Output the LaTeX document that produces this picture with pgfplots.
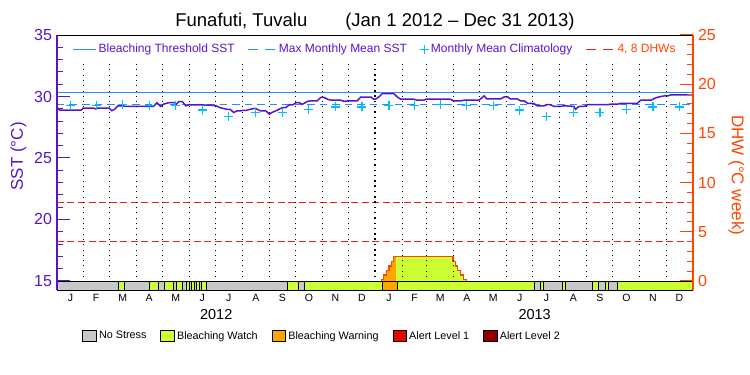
\documentclass[border=0pt]{standalone}
\usepackage{fontspec}
\setmainfont{Liberation Sans}
\usepackage{pgfplots}
\pgfplotsset{compat=1.18}
\definecolor{sstpurple}{RGB}{90,20,200}
\definecolor{dhworange}{RGB}{255,69,0}
\definecolor{thrblue}{RGB}{30,144,255}
\definecolor{climcyan}{RGB}{0,191,255}
\definecolor{dhwred}{RGB}{240,30,30}
\definecolor{nostress}{RGB}{200,200,200}
\definecolor{watch}{RGB}{204,255,51}
\definecolor{warning}{RGB}{255,165,0}
\definecolor{alertone}{RGB}{240,0,0}
\definecolor{alerttwo}{RGB}{140,0,0}
\pgfplotsset{
  legline/.style={legend image code/.code={\draw[##1] (0pt,0pt) -- (#1,0pt);}},
  legdline/.style={legend image code/.code={\draw[##1, dash pattern=on 10pt off 7pt] (0pt,0pt) -- (#1,0pt);}},
  legbox/.style={legend image code/.code={\draw[##1] (0pt,-5.3pt) rectangle (13.7pt,5.3pt);}},
}
\newcommand{\seg}[3]{\addplot[fill=#3, draw=black, line width=0.9pt, forget plot] coordinates {(#1,14.267) (#2,14.267) (#2,15) (#1,15)} -- cycle;}
\begin{document}
\begin{tikzpicture}
\path[use as bounding box] (-57pt,-85pt) rectangle (693pt,290pt);
% ---------------- SST axis ----------------
\begin{axis}[
  scale only axis, width=636pt, height=255pt,
  xmin=0, xmax=731, ymin=14.267, ymax=35,
  axis on top, separate axis lines,
  x axis line style={black, line width=1pt},
  y axis line style={sstpurple, line width=1.2pt},
  xtick={15.5,45,75.5,106,136.5,167,197.5,228.5,259,289.5,320,350.5,381.5,411,440.5,471,501.5,532,562.5,593.5,624,654.5,685,715.5},
  xticklabels={J,F,M,A,M,J,J,A,S,O,N,D,J,F,M,A,M,J,J,A,S,O,N,D},
  xtick pos=bottom, xtick style={draw=none},
  xticklabel style={font=\fontsize{10.5}{10.5}\selectfont, yshift=-1pt},
  extra x ticks={183,549}, extra x tick labels={2012,2013},
  extra x tick style={major tick length=0pt, xtick style={draw=none}, xticklabel style={font=\fontsize{14.5}{14.5}\selectfont, yshift=-15pt}},
  ytick={15,20,25,30,35}, minor ytick={16,17,18,19,21,22,23,24,26,27,28,29,31,32,33,34},
  ytick pos=left, tick align=inside,
  major tick length=13pt, minor tick length=6pt,
  ytick style={sstpurple, line width=1pt},
  yticklabel style={text=sstpurple, font=\fontsize{16}{16}\selectfont, xshift=-1.5pt},
  /pgf/number format/assume math mode=true,
  ylabel={SST (°C)},
  every axis y label/.style={at={(axis description cs:-0.0605,0.524)}, rotate=90, anchor=center, text=sstpurple, font=\fontsize{17}{17}\selectfont},
  title={Funafuti, Tuvalu\hspace{38pt}(Jan 1 2012 – Dec 31 2013)},
  title style={at={(axis description cs:0.5,1)}, anchor=base, yshift=3pt, font=\fontsize{18.5}{18.5}\selectfont},
  legend columns=4,
  legend style={draw=none, fill=none, at={(axis description cs:0.5,1)}, anchor=north, yshift=-5pt,
    font=\fontsize{12}{12}\selectfont, text=sstpurple,
    /tikz/every even column/.append style={column sep=11pt}},
]
% stress bar
\seg{0}{70.6}{nostress}
\seg{70.6}{77.1}{watch}
\seg{77.1}{106.3}{nostress}
\seg{106.3}{116.6}{watch}
\seg{116.6}{123.5}{nostress}
\seg{123.5}{133.9}{watch}
\seg{133.9}{137.7}{nostress}
\seg{137.7}{144.6}{watch}
\seg{144.6}{148.4}{nostress}
\seg{148.4}{152.3}{watch}
\seg{152.3}{155}{nostress}
\seg{155}{158}{watch}
\seg{158}{160.7}{nostress}
\seg{160.7}{163.8}{watch}
\seg{163.8}{166.5}{nostress}
\seg{166.5}{172.2}{watch}
\seg{172.2}{264.3}{nostress}
\seg{264.3}{277.7}{watch}
\seg{277.7}{284.6}{nostress}
\seg{284.6}{373.6}{watch}
\seg{373.6}{390.9}{warning}
\seg{390.9}{549.3}{watch}
\seg{549.3}{555.8}{nostress}
\seg{555.8}{558.9}{watch}
\seg{558.9}{580.8}{nostress}
\seg{580.8}{584.6}{watch}
\seg{584.6}{615.3}{nostress}
\seg{615.3}{622.2}{watch}
\seg{622.2}{629.8}{nostress}
\seg{629.8}{633.3}{watch}
\seg{633.3}{644.1}{nostress}
\seg{644.1}{731}{watch}
% threshold and MMM
\addplot[thrblue, line width=1.2pt, legline=23pt] coordinates {(0,30.32) (731,30.32)};
\addlegendentry{Bleaching Threshold SST}
\addplot[thrblue, line width=1.2pt, dash pattern=on 7.5pt off 5pt, legdline=28pt] coordinates {(0,29.32) (731,29.32)};
\addlegendentry{Max Monthly Mean SST}
% climatology
\addplot[only marks, mark=+, mark size=4.5pt, climcyan, line width=1.2pt] coordinates {
(15.5,29.3) (45,29.3) (75.5,29.35) (106,29.3) (136.5,29.25) (167,28.9) (197.5,28.35) (228.5,28.72) (259,28.72) (289.5,28.93) (320,29.15) (350.5,29.15)
(381.5,29.3) (411,29.3) (440.5,29.35) (471,29.3) (501.5,29.25) (532,28.9) (562.5,28.35) (593.5,28.72) (624,28.72) (654.5,28.93) (685,29.15) (715.5,29.15)};
\addlegendentry{Monthly Mean Climatology}
% SST
\addplot[sstpurple, line width=1.5pt, forget plot] coordinates {
(0,29.1) (3,28.9) (28,28.9) (30,29.05) (42,29.05) (44,29.0) (46,29.05) (60,29.05) (63,28.85) (66,28.95) (70,29.24) (76,29.24) (78,29.2) (111,29.2) (115,29.5) (119,29.2) (123,29.4) (129,29.5) (135,29.5) (137,29.36) (140,29.59) (144,29.59) (148,29.24) (152,29.33) (176,29.3) (183,29.24) (187,29.1) (195,28.96) (199,28.96) (203,28.7) (207,28.83) (211,28.83) (214,28.88) (218,28.88) (222,28.96) (228,29.04) (234,28.83) (240,28.83) (244,28.56) (247,28.7) (253,28.88) (259,29.1) (263,29.1) (267,29.32) (271,29.32) (275,29.5) (278,29.5) (282,29.37) (288,29.6) (291,29.64) (299,29.64) (303,29.92) (307,29.92) (311,29.78) (315,29.7) (326,29.7) (330,29.6) (334,29.64) (345,29.64) (349,29.95) (361,29.95) (364,29.78) (366,29.78) (370,29.97) (374,30.24) (387,30.24) (391,29.97) (395,29.78) (410,29.78) (414,29.7) (422,29.7) (424,29.78) (452,29.78) (456,29.64) (464,29.64) (468,29.7) (485,29.7) (491,30.05) (494,29.8) (510,29.8) (514,29.97) (518,29.97) (521,29.8) (529,29.8) (533,29.64) (537,29.64) (541,29.45) (548,29.43) (552,29.24) (560,29.24) (563,29.33) (567,29.33) (571,29.2) (579,29.2) (583,29.24) (594,29.2) (596,28.96) (600,29.2) (606,29.2) (610,29.33) (632,29.33) (636,29.37) (644,29.37) (648,29.45) (667,29.45) (671,29.7) (683,29.7) (687,29.86) (692,29.97) (698,30.05) (702,30.05) (706,30.14) (731,30.14)};
\addlegendimage{dhwred, line width=1.2pt, legdline=29pt}
\addlegendentry{\textcolor{dhworange}{4, 8 DHWs}}
\end{axis}
% ---------------- DHW axis ----------------
\begin{axis}[
  scale only axis, width=636pt, height=255pt,
  xmin=0, xmax=731, ymin=-0.918, ymax=25,
  axis x line=none, axis y line*=right,
  axis on top, clip=false, unbounded coords=jump,
  y axis line style={dhworange, line width=1.2pt},
  ytick={0,5,10,15,20,25}, minor ytick={1,2,3,4,6,7,8,9,11,12,13,14,16,17,18,19,21,22,23,24},
  tick align=inside, major tick length=13pt, minor tick length=6pt,
  ytick style={dhworange, line width=1pt},
  yticklabel style={text=dhworange, font=\fontsize{16}{16}\selectfont, xshift=1.5pt},
  /pgf/number format/assume math mode=true,
  ylabel={DHW (°C week)},
  every axis y label/.style={at={(axis description cs:1.068,0.45)}, rotate=-90, anchor=center, text=dhworange, font=\fontsize{17}{17}\selectfont},
  legend columns=5,
  legend style={draw=none, fill=none, at={(axis description cs:0.035,-0.18)}, anchor=west,
    font=\fontsize{10.8}{10.8}\selectfont,
    /tikz/every even column/.append style={column sep=12pt}},
]
% DHW fills
\addplot[fill=warning, draw=none, forget plot] coordinates {(373.2,0) (373.2,0.17) (375.5,0.17) (375.5,0.6) (378.6,0.6) (378.6,1.05) (381.7,1.05) (381.7,1.53) (384.3,1.53) (384.3,1.97) (387,1.97) (387,2.52) (390.1,2.52) (390.1,0)} -- cycle;
\addplot[fill=watch, draw=none, forget plot] coordinates {(390.1,0) (390.1,2.52) (455.3,2.52) (455.3,1.97) (458,1.97) (458,1.53) (460.7,1.53) (460.7,1.05) (463.8,1.05) (463.8,0.6) (467.6,0.6) (467.6,0.17) (470.6,0.17) (470.6,0)} -- cycle;
\addplot[dhworange, line width=1.3pt, forget plot] coordinates {(373.2,0) (373.2,0.17) (375.5,0.17) (375.5,0.6) (378.6,0.6) (378.6,1.05) (381.7,1.05) (381.7,1.53) (384.3,1.53) (384.3,1.97) (387,1.97) (387,2.52) (455.3,2.52) (455.3,1.97) (458,1.97) (458,1.53) (460.7,1.53) (460.7,1.05) (463.8,1.05) (463.8,0.6) (467.6,0.6) (467.6,0.17) (470.6,0.17) (470.6,0)};
% DHW 4 and 8 lines
\addplot[dhwred, line width=1.2pt, dash pattern=on 7pt off 3.5pt, forget plot] coordinates {(0,4) (731,4)};
\addplot[dhwred, line width=1.2pt, dash pattern=on 7pt off 3.5pt, forget plot] coordinates {(0,8) (731,8)};
% month separators
\addplot[black, line width=1pt, dash pattern=on 1pt off 4.3pt, forget plot] coordinates {
(31,0.4) (31,22.24) (31,nan)
(60,0.4) (60,22.24) (60,nan)
(91,0.4) (91,22.24) (91,nan)
(121,0.4) (121,22.24) (121,nan)
(152,0.4) (152,22.24) (152,nan)
(182,0.4) (182,22.24) (182,nan)
(213,0.4) (213,22.24) (213,nan)
(244,0.4) (244,22.24) (244,nan)
(274,0.4) (274,22.24) (274,nan)
(305,0.4) (305,22.24) (305,nan)
(335,0.4) (335,22.24) (335,nan)
(397,0.4) (397,22.24) (397,nan)
(425,0.4) (425,22.24) (425,nan)
(456,0.4) (456,22.24) (456,nan)
(486,0.4) (486,22.24) (486,nan)
(517,0.4) (517,22.24) (517,nan)
(547,0.4) (547,22.24) (547,nan)
(578,0.4) (578,22.24) (578,nan)
(609,0.4) (609,22.24) (609,nan)
(639,0.4) (639,22.24) (639,nan)
(670,0.4) (670,22.24) (670,nan)
(700,0.4) (700,22.24)};
\addplot[black, line width=2pt, dash pattern=on 1.5pt off 3.8pt, forget plot] coordinates {(366,0.4) (366,22.24)};
% bottom legend
\addlegendimage{fill=nostress, draw=black, line width=0.9pt, legbox}
\addlegendentry{No Stress}
\addlegendimage{fill=watch, draw=black, line width=0.9pt, legbox}
\addlegendentry{Bleaching Watch}
\addlegendimage{fill=warning, draw=black, line width=0.9pt, legbox}
\addlegendentry{Bleaching Warning}
\addlegendimage{fill=alertone, draw=black, line width=0.9pt, legbox}
\addlegendentry{Alert Level 1}
\addlegendimage{fill=alerttwo, draw=black, line width=0.9pt, legbox}
\addlegendentry{Alert Level 2}
\end{axis}
\end{tikzpicture}
\end{document}
